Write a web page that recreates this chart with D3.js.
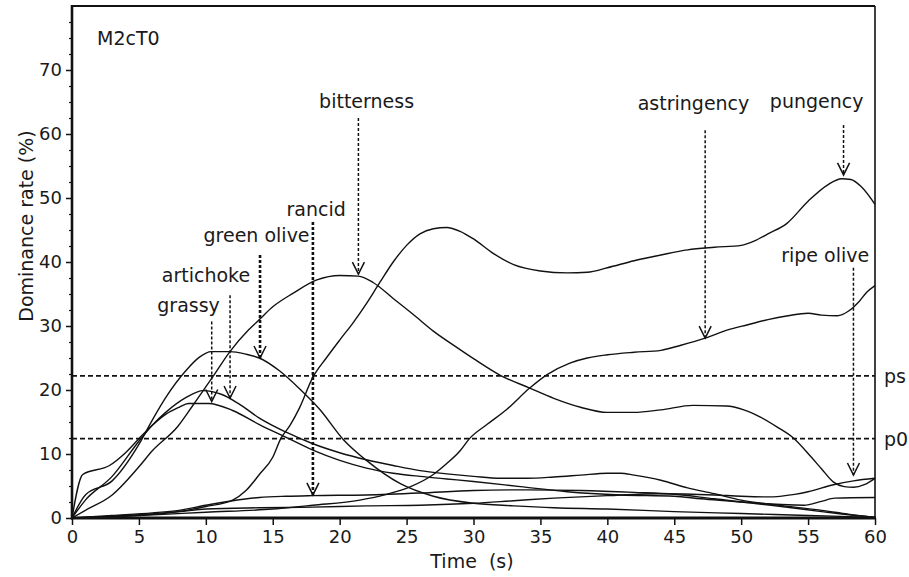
<!DOCTYPE html>
<html><head><meta charset="utf-8">
<script src="https://cdn.jsdelivr.net/npm/d3@7/dist/d3.min.js"></script>
<style>
body{margin:0;background:#fff}
svg{display:block;background:#fff}
text{font-family:"DejaVu Sans",Verdana,sans-serif;fill:#1a1a1a}
</style>
</head><body><svg id="c" width="909" height="577"></svg>
<script>
// ---------- data ----------
const chartTitle = "M2cT0";
const xTicks = [0,5,10,15,20,25,30,35,40,45,50,55,60];
const yTicks = [0,10,20,30,40,50,60,70];
const thresholdNames = ["ps","p0"];
const thresholdValues = [22.2,12.4];

const seriesNames = ["grassy","artichoke","green olive","rancid","bitterness","astringency","pungency","ripe olive"];

const grassy = [[0,0],[0.8,6.8],[2.8,8.2],[4,10.2],[5,12.4],[6,14.5],[7,16.2],[8,17.3],[8.7,17.9],[10.2,17.9],[12,16.8],[14,14.6],[16,12.6],[18,10.6],[20,9.0],[22,7.8],[24,7.0],[26,6.5],[28,6.1],[30,5.7],[33.5,4.9],[37,4.1],[41,3.6],[45,3.4],[47,3.0],[50,2.5],[53,1.8],[56,1.0],[58,0.5],[60,0.1]];
const artichoke = [[0,0],[1,2.8],[3,6.5],[5,12],[6,14.5],[7,16.5],[8.5,18.8],[9.8,19.9],[11.2,19.3],[12.5,17.8],[14,15.6],[16,13.4],[18,11.6],[20,10.2],[22,9.1],[24,8.2],[26,7.4],[28,6.9],[30,6.5],[32,6.2],[34,6.2],[36,6.4],[38,6.7],[40,7.0],[41,7.0],[42,6.7],[44,5.9],[46,4.7],[48,3.8],[50,2.8],[52,2.2],[54,1.7],[56,1.2],[58,0.6],[60,0.1]];
const greenOlive = [[0,0],[1,3.6],[3,5.8],[5,11.5],[6,15.3],[7,18.8],[8.5,23],[9.5,25.1],[10.4,26],[11.8,26],[13,25.6],[14,25],[15.5,23],[17,20.2],[18.5,17],[20.3,12.2],[22,9],[24.5,5.4],[27,3.4],[30,2.3],[33,1.9],[36,1.6],[40,1.4],[45,1.0],[50,0.7],[55,0.4],[60,0.1]];
const rancid = [[0,0],[3,0.4],[6,0.8],[8,1.2],[10,2.0],[12,2.7],[14,3.2],[16,3.4],[18,3.5],[22,3.6],[26,3.9],[30,4.3],[34,4.4],[38,4.3],[42,4.0],[45,3.7],[48,3.0],[50.7,2.4],[53,2.1],[54.7,2.0],[56,2.6],[57,3.1],[60,3.2]];
const bitterness = [[0,0],[1,1.2],[3,3.6],[5,8],[6,10.5],[7.9,14.3],[9,17.5],[10.5,22],[11.8,26],[13.2,29.4],[14,31],[15,33],[16.5,35.1],[18.3,37.2],[20,37.9],[21.4,37.8],[22.5,36.8],[24,34.3],[25.5,31.8],[27,29.2],[28.5,27],[30,24.9],[32,22.3],[34.2,20.3],[36,18.7],[38,17.3],[40,16.5],[42,16.5],[44,16.9],[46.4,17.6],[48.9,17.5],[50.2,16.9],[51.4,15.8],[52.7,14.2],[53.9,12.5],[55.2,9.6],[56,7.7],[56.9,5.6],[57.7,4.9],[58.4,4.8],[59.2,5.2],[60,6.2]];
const astringency = [[0,0],[5,0.4],[10,0.9],[15,1.4],[18,2.0],[21.5,2.8],[23.5,3.7],[25.3,4.9],[27,6.8],[28,8.5],[29,10.5],[29.7,12.4],[31,14.6],[32.5,17],[34.2,20.3],[35.5,22.4],[37.2,24.2],[38.5,25],[40,25.5],[42,25.9],[44,26.2],[45.5,27],[47.3,28.1],[49,29.4],[50.5,30.2],[52,31],[53.5,31.6],[55,32],[56,31.7],[57.2,31.6],[58,32.3],[58.8,33.8],[59.4,35.3],[60,36.3]];
const pungency = [[0,0],[4,0.3],[8,1.0],[10,1.8],[12,2.8],[13,4.3],[14,6.8],[15,9.5],[15.6,12.4],[16.3,14.5],[17,17.2],[18,22],[19,25],[20,27.8],[21,30.5],[22,33.5],[23,36.8],[24,40],[25,42.6],[26,44.4],[27,45.2],[28,45.4],[29,44.8],[30,43.6],[31.5,41.3],[33,39.6],[35,38.6],[37,38.3],[38.5,38.4],[40,39.1],[42,40.2],[44,41.1],[46,41.9],[48,42.3],[50,42.6],[51,43.3],[52,44.4],[53.4,46],[55,49.5],[56.5,52.1],[57.5,53],[58.2,52.9],[59,51.7],[60,49]];
const ripeOlive = [[0,0],[4,0.4],[8,1.0],[10,1.4],[14,1.6],[18,1.7],[22,1.9],[26,2.0],[30,2.3],[33,2.7],[36,3.1],[40,3.5],[44,3.8],[48,3.6],[50,3.4],[52,3.3],[54,3.7],[55,4.1],[56.9,5.2],[58.4,5.8],[60,6.2]];

// arrow annotations (time, value at arrow tip, value at arrow top)
const arrowTimes = [10.44,11.81,14.05,18.0,21.4,47.31,57.65,58.39];
const arrowTips  = [18.2,18.75,25.0,3.6,38.1,28.1,53.6,6.72];
const arrowTops  = [30.7,34.8,41.1,46.25,62.5,60.6,61.4,39.1];
// label anchor (time, value) for each annotation text
const labelTimes  = [8.71,10.01,13.79,18.24,22.01,46.44,55.64,56.28];
const labelValues = [32.2,36.9,43.2,47.2,64.06,63.75,64.06,40.05];

// ---------- drawing ----------
const seriesData = [grassy,artichoke,greenOlive,rancid,bitterness,astringency,pungency,ripeOlive];
const svg = d3.select("#c");
const W = 909, H = 577;
const x = d3.scaleLinear().domain([0,60]).range([72,875]);
const y = d3.scaleLinear().domain([0,80]).range([518,6]);

// threshold dashed lines
svg.append("g").selectAll("line").data(thresholdValues).join("line")
  .attr("x1", x(0)).attr("x2", x(60))
  .attr("y1", d=>y(d)).attr("y2", d=>y(d))
  .attr("stroke","#111").attr("stroke-width",1.8).attr("stroke-dasharray","5,3");
svg.append("g").selectAll("text").data(thresholdValues).join("text")
  .attr("x", x(60)+9).attr("y", d=>y(d)+7)
  .attr("font-size",19).text((d,i)=>thresholdNames[i]);

// curves
const line = d3.line().x(d=>x(d[0])).y(d=>y(d[1])).curve(d3.curveMonotoneX);
svg.append("g").selectAll("path").data(seriesData).join("path")
  .attr("d", line).attr("fill","none").attr("stroke","#111").attr("stroke-width",1.4)
  .attr("stroke-linejoin","round");

// arrows
const heavy = ["green olive","rancid"];
const ag = svg.append("g");
seriesNames.forEach((name,i)=>{
  const ax = x(arrowTimes[i]);
  const ty = y(arrowTips[i]);
  const sw = heavy.includes(name) ? 2.6 : 1.5;
  ag.append("line").attr("x1",ax).attr("x2",ax)
    .attr("y1",y(arrowTops[i])).attr("y2",ty)
    .attr("stroke","#111").attr("stroke-width",sw).attr("stroke-dasharray","3,2");
  ag.append("path").attr("d",`M${ax-6},${ty-12}L${ax},${ty}L${ax+6},${ty-12}`)
    .attr("fill","none").attr("stroke","#111").attr("stroke-width",1.5);
  ag.append("text").attr("x",x(labelTimes[i])).attr("y",y(labelValues[i]))
    .attr("text-anchor","middle").attr("font-size",19).text(name);
});

// axes
const xAxis = d3.axisBottom(x).tickValues(xTicks).tickSize(7).tickPadding(5).tickFormat(d3.format("d"));
const gx = svg.append("g").attr("transform",`translate(0,${y(0)})`).call(xAxis);
gx.select(".domain").remove();
gx.selectAll(".tick line").attr("stroke","#111").attr("stroke-width",1.5);
gx.selectAll(".tick text").attr("font-size",18).attr("fill","#1a1a1a").attr("font-family","DejaVu Sans");

const yAxis = d3.axisLeft(y).tickValues(yTicks).tickSize(6).tickPadding(4).tickFormat(d3.format("d"));
const gy = svg.append("g").attr("transform",`translate(${x(0)},0)`).call(yAxis);
gy.select(".domain").remove();
gy.selectAll(".tick line").attr("stroke","#111").attr("stroke-width",1.5);
gy.selectAll(".tick text").attr("font-size",18).attr("fill","#1a1a1a").attr("font-family","DejaVu Sans");

const minorY = d3.range(0,80,2.5).filter(v=>v%10!==0);
const gym = svg.append("g").attr("transform",`translate(${x(0)},0)`)
  .call(d3.axisLeft(y).tickValues(minorY).tickSize(3).tickFormat(""));
gym.select(".domain").remove();
gym.selectAll(".tick line").attr("stroke","#111").attr("stroke-width",1.2);

// frame
svg.append("line").attr("x1",x(0)).attr("x2",x(60)).attr("y1",y(80)).attr("y2",y(80)).attr("stroke","#111").attr("stroke-width",2);
svg.append("line").attr("x1",x(60)).attr("x2",x(60)).attr("y1",y(80)).attr("y2",y(0)).attr("stroke","#111").attr("stroke-width",1.6);
svg.append("line").attr("x1",x(0)).attr("x2",x(0)).attr("y1",y(80)-1).attr("y2",y(0)+1.5).attr("stroke","#111").attr("stroke-width",2.6);
svg.append("line").attr("x1",x(0)-1).attr("x2",x(60)+1).attr("y1",y(0)).attr("y2",y(0)).attr("stroke","#111").attr("stroke-width",3);

// titles
svg.append("text").attr("x",97).attr("y",45).attr("font-size",19).text(chartTitle);
svg.append("text").attr("x",472).attr("y",568).attr("text-anchor","middle")
  .attr("font-size",19).style("white-space","pre").text("Time  (s)");
svg.append("text").attr("transform","translate(33,226) rotate(-90)")
  .attr("text-anchor","middle").attr("font-size",19).text("Dominance rate (%)");
</script>
</body></html>
